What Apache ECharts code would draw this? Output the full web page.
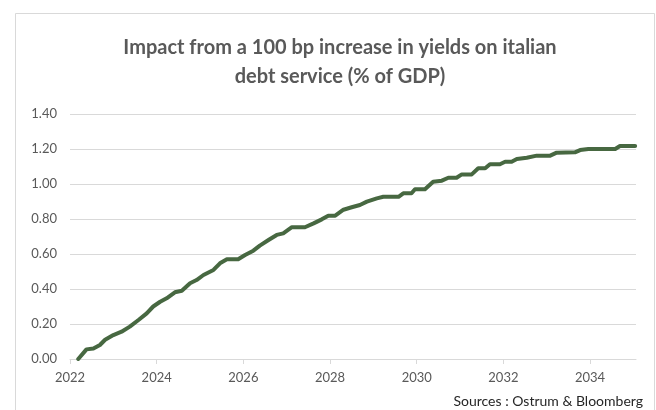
<!DOCTYPE html>
<html>
<head>
<meta charset="utf-8">
<script src="https://cdn.jsdelivr.net/npm/echarts@6/dist/echarts.min.js"></script>
<style>
  html, body { margin: 0; padding: 0; background: #fff; }
  #chart { width: 656px; height: 410px; }
</style>
</head>
<body>
<div id="chart"></div>
<script>
// decimal year of each reading, and the impact on debt service (% of GDP)
var years = [
  2022.19, 2022.38, 2022.54, 2022.69, 2022.81, 2023.00, 2023.19, 2023.38, 2023.58, 2023.77,
  2023.92, 2024.08, 2024.23, 2024.42, 2024.58, 2024.77, 2024.92, 2025.08, 2025.31, 2025.46,
  2025.62, 2025.88, 2026.04, 2026.23, 2026.38, 2026.58, 2026.77, 2026.92, 2027.12, 2027.42,
  2027.62, 2027.81, 2027.96, 2028.12, 2028.31, 2028.50, 2028.69, 2028.85, 2029.08, 2029.23,
  2029.58, 2029.69, 2029.88, 2029.96, 2030.19, 2030.38, 2030.58, 2030.73, 2030.92, 2031.04,
  2031.27, 2031.42, 2031.58, 2031.69, 2031.92, 2032.04, 2032.19, 2032.31, 2032.54, 2032.77,
  2033.08, 2033.23, 2033.65, 2033.77, 2033.96, 2034.58, 2034.69, 2035.04
];
var impact = [
  0.000, 0.055, 0.060, 0.080, 0.110, 0.137, 0.156, 0.185, 0.223, 0.261,
  0.300, 0.327, 0.347, 0.381, 0.390, 0.433, 0.451, 0.480, 0.509, 0.547,
  0.570, 0.570, 0.594, 0.619, 0.648, 0.680, 0.709, 0.718, 0.753, 0.753,
  0.775, 0.798, 0.819, 0.819, 0.853, 0.867, 0.880, 0.899, 0.918, 0.927,
  0.927, 0.947, 0.947, 0.970, 0.970, 1.013, 1.019, 1.036, 1.036, 1.055,
  1.055, 1.090, 1.090, 1.113, 1.113, 1.127, 1.127, 1.143, 1.150, 1.162,
  1.162, 1.179, 1.181, 1.194, 1.200, 1.200, 1.217, 1.217
];
var titleLines = ['Impact from a 100 bp increase in yields on italian', 'debt service (% of GDP)'];
var sourceText = 'Sources : Ostrum & Bloomberg';

var chart = echarts.init(document.getElementById('chart'));
var points = years.map(function (y, i) { return [y, impact[i]]; });

var option = {
  backgroundColor: '#ffffff',
  animation: false,
  title: {
    text: titleLines.join('\n'),
    left: 335,
    top: 28,
    textAlign: 'center',
    textStyle: {
      fontFamily: 'Lato',
      fontSize: 20,
      fontWeight: 'bold',
      color: '#595959',
      lineHeight: 29
    }
  },
  graphic: [{
    type: 'rect',
    shape: { x: 15.5, y: 13.5, width: 639, height: 420 },
    style: { fill: 'none', stroke: '#d9d9d9', lineWidth: 1 },
    silent: true
  }, {
    type: 'text',
    right: 13,
    top: 394,
    style: {
      text: sourceText,
      font: '14px Lato',
      fill: '#262626'
    }
  }],
  grid: {
    left: 70,
    right: 20,
    top: 114,
    bottom: 51
  },
  xAxis: {
    type: 'value',
    min: 2022,
    max: 2035.06,
    interval: 2,
    splitLine: { show: false },
    axisLine: { lineStyle: { color: '#d9d9d9' } },
    axisTick: { show: true, length: 5, lineStyle: { color: '#d9d9d9' } },
    axisLabel: {
      color: '#595959',
      fontFamily: 'Lato',
      fontSize: 13,
      margin: 12,
      showMaxLabel: false,
      formatter: function (v) { return String(Math.round(v)); }
    }
  },
  yAxis: {
    type: 'value',
    min: 0,
    max: 1.4,
    interval: 0.2,
    axisLine: { show: false },
    axisTick: { show: false },
    splitLine: { lineStyle: { color: '#d9d9d9', width: 1 } },
    axisLabel: {
      color: '#595959',
      fontFamily: 'Lato',
      fontSize: 13,
      margin: 13,
      formatter: function (v) { return v.toFixed(2); }
    }
  },
  series: [{
    type: 'line',
    data: points,
    showSymbol: false,
    smooth: false,
    lineStyle: { color: '#476841', width: 4, join: 'round', cap: 'round' },
    itemStyle: { color: '#476841' }
  }]
};
chart.setOption(option);
</script>
</body>
</html>
